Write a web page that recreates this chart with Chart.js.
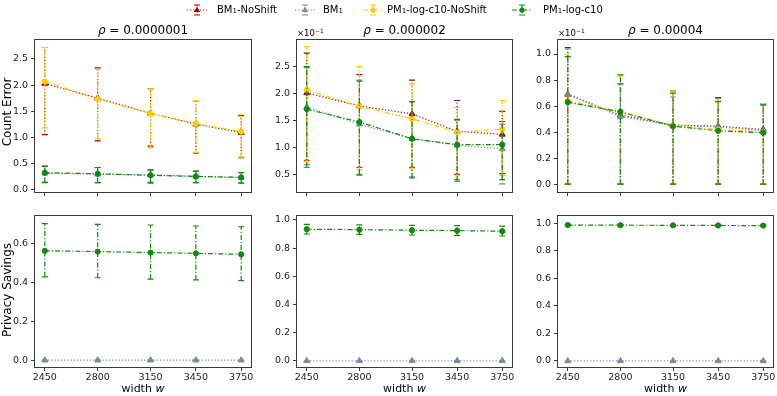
<!DOCTYPE html>
<html>
<head>
<meta charset="utf-8">
<script src="https://cdn.jsdelivr.net/npm/chart.js@4.4.0/dist/chart.umd.min.js"></script>
<style>
    body { margin: 0; background: #fff; font-family: "DejaVu Sans", sans-serif; }
    #fig { position: relative; width: 777px; height: 396px; overflow: hidden; }
    #fig canvas.panel { position: absolute; }
    #fig canvas.leg { position: absolute; }
    #labels { position: absolute; left: 0; top: 0; }
    #labels text { font-family: "DejaVu Sans", sans-serif; fill: #000; }
</style>
</head>
<body>
<div id="fig"></div>
<script>
// x values (width w) and tick labels
const widths = [2450, 2800, 3150, 3450, 3750];
const rhoLabels = ['0.0000001', '0.000002', '0.00004'];

// Count Error, rho = 0.0000001
const ceA_bmNoShift = [2.03, 1.75, 1.46, 1.25, 1.09];
const ceA_bmNoShiftLo = [1.05, 0.93, 0.83, 0.69, 0.61];
const ceA_bmNoShiftHi = [2.72, 2.33, 1.93, 1.70, 1.42];
const ceA_bm = [0.31, 0.29, 0.28, 0.25, 0.23];
const ceA_bmLo = [0.14, 0.13, 0.14, 0.13, 0.12];
const ceA_bmHi = [0.45, 0.42, 0.38, 0.35, 0.32];
const ceA_pmNoShift = [2.07, 1.73, 1.46, 1.26, 1.11];
const ceA_pmNoShiftLo = [1.18, 0.97, 0.80, 0.70, 0.62];
const ceA_pmNoShiftHi = [2.72, 2.30, 1.93, 1.70, 1.40];
const ceA_pm = [0.32, 0.30, 0.27, 0.25, 0.23];
const ceA_pmLo = [0.13, 0.13, 0.12, 0.13, 0.12];
const ceA_pmHi = [0.44, 0.42, 0.37, 0.35, 0.32];

// Count Error, rho = 0.000002 (units of 1e-1)
const ceB_bmNoShift = [2.01, 1.77, 1.62, 1.30, 1.24];
const ceB_bmNoShiftLo = [0.76, 0.63, 0.63, 0.50, 0.51];
const ceB_bmNoShiftHi = [2.75, 2.35, 2.25, 1.87, 1.67];
const ceB_bm = [1.75, 1.43, 1.16, 1.04, 0.97];
const ceB_bmLo = [0.68, 0.48, 0.45, 0.40, 0.32];
const ceB_bmHi = [2.48, 2.25, 1.85, 1.50, 1.43];
const ceB_pmNoShift = [2.07, 1.76, 1.53, 1.28, 1.34];
const ceB_pmNoShiftLo = [0.73, 0.58, 0.60, 0.47, 0.48];
const ceB_pmNoShiftHi = [2.87, 2.50, 2.18, 1.74, 1.87];
const ceB_pm = [1.71, 1.47, 1.16, 1.05, 1.05];
const ceB_pmLo = [0.63, 0.50, 0.43, 0.37, 0.40];
const ceB_pmHi = [2.50, 2.23, 1.85, 1.52, 1.48];

// Count Error, rho = 0.00004 (units of 1e-1)
const ceC_bmNoShift = [0.69, 0.53, 0.455, 0.445, 0.42];
const ceC_bmNoShiftLo = [0, 0, 0, 0, 0];
const ceC_bmNoShiftHi = [1.05, 0.77, 0.715, 0.665, 0.62];
const ceC_bm = [0.69, 0.52, 0.45, 0.44, 0.41];
const ceC_bmLo = [0, 0, 0, 0, 0];
const ceC_bmHi = [1.04, 0.77, 0.67, 0.66, 0.61];
const ceC_pmNoShift = [0.64, 0.56, 0.45, 0.42, 0.40];
const ceC_pmNoShiftLo = [0, 0, 0, 0, 0];
const ceC_pmNoShiftHi = [1.00, 0.83, 0.715, 0.64, 0.62];
const ceC_pm = [0.63, 0.555, 0.445, 0.41, 0.395];
const ceC_pmLo = [0, 0, 0, 0, 0];
const ceC_pmHi = [0.98, 0.84, 0.70, 0.635, 0.61];

// Privacy Savings
const psA_bm = [0, 0, 0, 0, 0];
const psA_pm = [0.564, 0.560, 0.555, 0.551, 0.546];
const psA_pmLo = [0.43, 0.425, 0.418, 0.414, 0.41];
const psA_pmHi = [0.704, 0.70, 0.697, 0.692, 0.688];
const psB_bm = [0, 0, 0, 0, 0];
const psB_pm = [0.934, 0.931, 0.927, 0.924, 0.920];
const psB_pmLo = [0.90, 0.897, 0.893, 0.89, 0.886];
const psB_pmHi = [0.968, 0.965, 0.962, 0.959, 0.956];
const psC_bm = [0, 0, 0, 0, 0];
const psC_pm = [0.988, 0.987, 0.986, 0.985, 0.984];
const psC_pmLo = [0.982, 0.981, 0.980, 0.979, 0.978];
const psC_pmHi = [0.994, 0.993, 0.992, 0.991, 0.990];

// y tick labels
const ticksCeA = [0, 0.5, 1.0, 1.5, 2.0, 2.5];
const ticksCeB = [0.5, 1.0, 1.5, 2.0, 2.5];
const ticksCeC = [0, 0.2, 0.4, 0.6, 0.8, 1.0];
const ticksPsA = [0, 0.2, 0.4, 0.6];
const ticksPs = [0, 0.2, 0.4, 0.6, 0.8, 1.0];

const dotted = [1.2, 2];
const dashDot = [5, 2, 1.2, 2];
const styles = {
    bmNoShift: { name: ['BM', '1', '-NoShift'], color: '#9e0b0b', dash: dotted, point: 'triangle', r: 3.5, order: 4 },
    bm:        { name: ['BM', '1', ''], color: '#7a89a0', dash: dotted, point: 'triangle', r: 3.5, order: 3 },
    pmNoShift: { name: ['PM', '1', '-log-c10-NoShift'], color: '#ffcc00', dash: dashDot, point: 'circle', r: 2.6, order: 2 },
    pm:        { name: ['PM', '1', '-log-c10'], color: '#118a11', dash: dashDot, point: 'circle', r: 2.6, order: 1 },
};

const fig = document.querySelector('#fig');
const AXW = 34, AXH = 22, PAD = 6;

const errorBars = {
    id: 'errorBars',
    beforeDatasetDraw(chart, args) {
        const ds = chart.data.datasets[args.index];
        if (!ds.errLo) return;
        const ctx = chart.ctx, xs = chart.scales.x, ys = chart.scales.y;
        ctx.save();
        ctx.strokeStyle = ds.borderColor;
        ctx.lineWidth = 1.2;
        ds.data.forEach((p, i) => {
            const x = xs.getPixelForValue(p.x);
            const y0 = ys.getPixelForValue(ds.errLo[i]);
            const y1 = ys.getPixelForValue(ds.errHi[i]);
            ctx.setLineDash(ds.borderDash);
            ctx.beginPath(); ctx.moveTo(x, y0); ctx.lineTo(x, y1); ctx.stroke();
            ctx.setLineDash([]);
            ctx.beginPath();
            ctx.moveTo(x - 3, y0); ctx.lineTo(x + 3, y0);
            ctx.moveTo(x - 3, y1); ctx.lineTo(x + 3, y1);
            ctx.stroke();
        });
        ctx.restore();
    }
};

const frame = {
    id: 'frame',
    afterDraw(chart) {
        const { ctx, chartArea: a } = chart;
        ctx.save();
        ctx.strokeStyle = '#3a3a3a';
        ctx.lineWidth = 1;
        ctx.strokeRect(Math.round(a.left) - 0.5, Math.round(a.top) - 0.5, Math.round(a.right - a.left) + 1, Math.round(a.bottom - a.top) + 1);
        ctx.restore();
    }
};

function makePanel(p) {
    const [l, t, w, h] = p.box;
    const cv = document.createElement('canvas');
    cv.className = 'panel';
    cv.width = w + AXW + PAD;
    cv.height = h + PAD + AXH;
    cv.style.left = (l - AXW) + 'px';
    cv.style.top = (t - PAD) + 'px';
    fig.appendChild(cv);

    const datasets = p.series.map(([key, vals, lo, hi]) => {
        const s = styles[key];
        return {
            label: key,
            data: widths.map((x, i) => ({ x: x, y: vals[i] })),
            errLo: lo, errHi: hi,
            borderColor: s.color,
            backgroundColor: s.color,
            borderDash: s.dash,
            borderWidth: 1.2,
            pointStyle: s.point,
            pointRadius: s.r,
            pointBorderWidth: 1,
            pointBackgroundColor: s.color,
            pointBorderColor: s.color,
            order: s.order,
            tension: 0,
        };
    });

    const tickFont = { family: 'DejaVu Sans', size: 9.5 };
    new Chart(cv, {
        type: 'line',
        data: { datasets },
        options: {
            responsive: false,
            animation: false,
            layout: { padding: { top: PAD, right: PAD, left: 0, bottom: 0 } },
            plugins: { legend: { display: false }, tooltip: { enabled: false } },
            scales: {
                x: {
                    type: 'linear', min: 2385, max: 3815,
                    border: { display: false },
                    grid: { drawOnChartArea: false, drawTicks: true, tickLength: 4, tickColor: '#3a3a3a' },
                    ticks: {
                        autoSkip: false, maxRotation: 0, padding: 1, color: '#222', font: tickFont,
                        callback: v => p.xLabels ? String(v) : ''
                    },
                    afterBuildTicks: sc => { sc.ticks = widths.map(v => ({ value: v })); },
                    afterFit: sc => { sc.height = AXH; }
                },
                y: {
                    type: 'linear', min: p.y[0], max: p.y[1],
                    border: { display: false },
                    grid: { drawOnChartArea: false, drawTicks: true, tickLength: 4, tickColor: '#3a3a3a' },
                    ticks: { padding: 3, color: '#222', font: tickFont, callback: v => v.toFixed(1) },
                    afterBuildTicks: sc => { sc.ticks = p.yTicks.map(v => ({ value: v })); },
                    afterFit: sc => { sc.width = AXW; }
                }
            }
        },
        plugins: [errorBars, frame]
    });
}

const panels = [
    { box: [35, 37, 216, 155], y: [-0.05, 2.87], yTicks: ticksCeA, xLabels: false, series: [
        ['bmNoShift', ceA_bmNoShift, ceA_bmNoShiftLo, ceA_bmNoShiftHi],
        ['bm', ceA_bm, ceA_bmLo, ceA_bmHi],
        ['pmNoShift', ceA_pmNoShift, ceA_pmNoShiftLo, ceA_pmNoShiftHi],
        ['pm', ceA_pm, ceA_pmLo, ceA_pmHi]] },
    { box: [297, 37, 215, 155], y: [0.17, 3.0], yTicks: ticksCeB, xLabels: false, series: [
        ['bmNoShift', ceB_bmNoShift, ceB_bmNoShiftLo, ceB_bmNoShiftHi],
        ['bm', ceB_bm, ceB_bmLo, ceB_bmHi],
        ['pmNoShift', ceB_pmNoShift, ceB_pmNoShiftLo, ceB_pmNoShiftHi],
        ['pm', ceB_pm, ceB_pmLo, ceB_pmHi]] },
    { box: [558, 37, 215, 155], y: [-0.06, 1.11], yTicks: ticksCeC, xLabels: false, series: [
        ['bmNoShift', ceC_bmNoShift, ceC_bmNoShiftLo, ceC_bmNoShiftHi],
        ['bm', ceC_bm, ceC_bmLo, ceC_bmHi],
        ['pmNoShift', ceC_pmNoShift, ceC_pmNoShiftLo, ceC_pmNoShiftHi],
        ['pm', ceC_pm, ceC_pmLo, ceC_pmHi]] },
    { box: [35, 213, 216, 154], y: [-0.035, 0.745], yTicks: ticksPsA, xLabels: true, series: [
        ['bm', psA_bm, psA_bm, psA_bm],
        ['pm', psA_pm, psA_pmLo, psA_pmHi]] },
    { box: [297, 213, 215, 154], y: [-0.044, 1.03], yTicks: ticksPs, xLabels: true, series: [
        ['bm', psB_bm, psB_bm, psB_bm],
        ['pm', psB_pm, psB_pmLo, psB_pmHi]] },
    { box: [558, 213, 215, 154], y: [-0.044, 1.056], yTicks: ticksPs, xLabels: true, series: [
        ['bm', psC_bm, psC_bm, psC_bm],
        ['pm', psC_pm, psC_pmLo, psC_pmHi]] },
];
panels.forEach(makePanel);

// text labels in one svg overlay
const NS = 'http://www.w3.org/2000/svg';
const svg = document.createElementNS(NS, 'svg');
svg.id = 'labels';
svg.setAttribute('width', 777);
svg.setAttribute('height', 396);
fig.appendChild(svg);

function addText(parts, x, y, size, opts = {}) {
    const t = document.createElementNS(NS, 'text');
    t.setAttribute('x', x);
    t.setAttribute('y', y);
    t.setAttribute('font-size', size);
    t.setAttribute('text-anchor', opts.anchor || 'middle');
    t.setAttribute('dominant-baseline', 'central');
    if (opts.rotate) t.setAttribute('transform', `rotate(-90 ${x} ${y})`);
    parts.forEach(([str, kind]) => {
        const sp = document.createElementNS(NS, 'tspan');
        sp.textContent = str;
        if (kind === 'i') sp.setAttribute('font-style', 'italic');
        if (kind === 'sub') { sp.setAttribute('font-size', size * 0.7); sp.setAttribute('dy', size * 0.2); }
        if (kind === 'afterSub') sp.setAttribute('dy', -size * 0.2);
        if (kind === 'sup') { sp.setAttribute('font-size', size * 0.7); sp.setAttribute('dy', -size * 0.35); }
        t.appendChild(sp);
    });
    svg.appendChild(t);
}

// panel titles and offset labels
panels.slice(0, 3).forEach((p, i) => {
    addText([['ρ', 'i'], [' = ' + rhoLabels[i]]], p.box[0] + p.box[2] / 2, 30, 12);
    if (i > 0) addText([['×10'], ['−1', 'sup']], p.box[0], 33, 8.5, { anchor: 'start' });
});
panels.slice(3).forEach(p => addText([['width '], ['w', 'i']], p.box[0] + p.box[2] / 2, 388, 11));
addText([['Count Error']], 7, 112, 12, { rotate: true });
addText([['Privacy Savings']], 7, 290, 12, { rotate: true });

// legend
const legendPos = [['bmNoShift', 197, 217], ['bm', 305, 323], ['pmNoShift', 373, 387], ['pm', 522, 543]];
legendPos.forEach(([key, mx, tx]) => {
    const s = styles[key];
    const parts = [[s.name[0]], [s.name[1], 'sub']];
    if (s.name[2]) parts.push([s.name[2], 'afterSub']);
    addText(parts, tx, 9, 10, { anchor: 'start' });

    const c = document.createElement('canvas');
    c.className = 'leg';
    c.width = 22; c.height = 16;
    c.style.left = (mx - 11) + 'px'; c.style.top = '2px';
    fig.insertBefore(c, svg);
    const g = c.getContext('2d');
    g.strokeStyle = s.color; g.fillStyle = s.color; g.lineWidth = 1.2;
    g.setLineDash(s.dash);
    g.beginPath(); g.moveTo(1, 8); g.lineTo(21, 8); g.stroke();
    g.beginPath(); g.moveTo(11, 3); g.lineTo(11, 13); g.stroke();
    g.setLineDash([]);
    g.beginPath(); g.moveTo(8, 3); g.lineTo(14, 3); g.moveTo(8, 13); g.lineTo(14, 13); g.stroke();
    g.beginPath();
    if (s.point === 'triangle') {
        g.moveTo(11, 4.5); g.lineTo(14.2, 10); g.lineTo(7.8, 10); g.closePath();
    } else {
        g.arc(11, 8, 2.6, 0, Math.PI * 2);
    }
    g.fill();
});
</script>
</body>
</html>
